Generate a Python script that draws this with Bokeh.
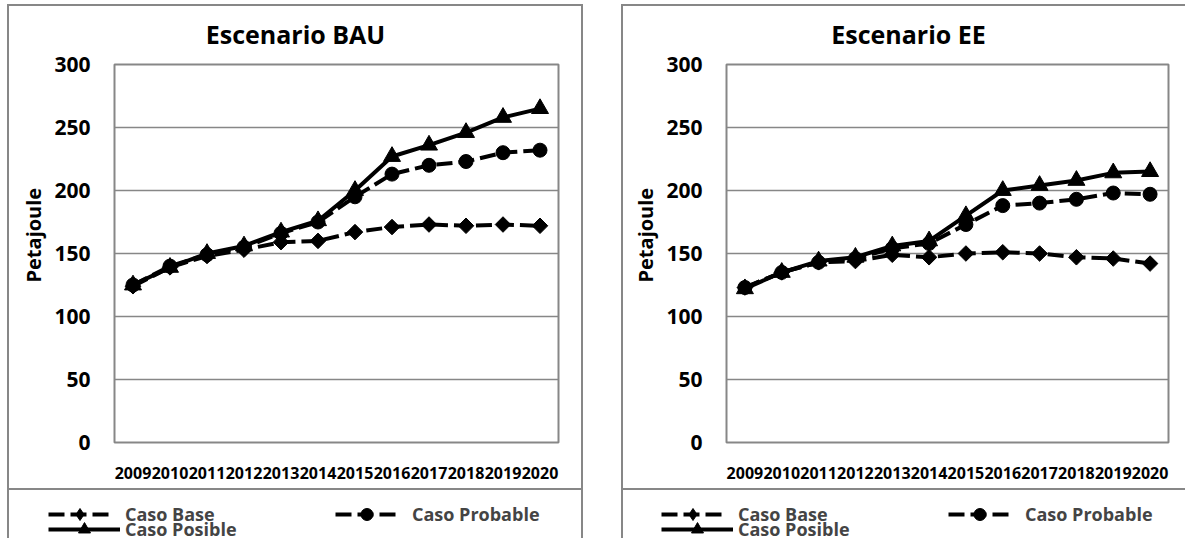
import numpy as np
from bokeh.plotting import figure
from bokeh.models import (FactorRange, Range1d, FixedTicker, Legend, LegendItem,
                          Label, Spacer, Title)
from bokeh.layouts import row, column
from bokeh.embed import file_html
from bokeh.resources import INLINE

years = [str(y) for y in range(2009, 2021)]
y_ticks = [0, 50, 100, 150, 200, 250, 300]

bau_base = [124, 139, 148, 153, 159, 160, 167, 171, 173, 172, 173, 172]
bau_probable = [125, 140, 149, 155, 166, 175, 195, 213, 220, 223, 230, 232]
bau_posible = [125, 139, 150, 156, 167, 176, 200, 227, 236, 246, 258, 265]

ee_base = [123, 135, 143, 144, 149, 147, 150, 151, 150, 147, 146, 142]
ee_probable = [123, 135, 143, 146, 154, 158, 173, 188, 190, 193, 198, 197]
ee_posible = [122, 135, 144, 147, 156, 160, 180, 200, 204, 208, 214, 215]

titles = ["Escenario BAU", "Escenario EE"]
y_label = "Petajoule"
series_names = ["Caso Base", "Caso Probable", "Caso Posible"]

GRAY = "#878787"
BORDER = f"2px solid {GRAY}"
FONT = "Open Sans"

STYLES = [
    dict(line_dash="16 6", marker="square", angle=np.pi / 4, size=11, legend_marker="diamond"),
    dict(line_dash="16 6", marker="circle", angle=0, size=14, legend_marker="circle"),
    dict(line_dash="solid", marker="triangle", angle=0, size=17, legend_marker="triangle"),
]


def draw_series(p, xs, ys, st, legend=False):
    r = p.line(xs, ys, line_color="black", line_width=4, line_dash=st["line_dash"])
    if legend:
        s = p.scatter(xs, ys, marker=st["legend_marker"], size=12, color="black")
    else:
        s = p.scatter(xs, ys, marker=st["marker"], angle=st["angle"],
                      size=st["size"], color="black")
    return [r, s]


def bare_fig(width, height, **kw):
    q = figure(width=width, height=height, output_backend="svg", toolbar_location=None,
               x_axis_location=None, y_axis_location=None,
               min_border=0, min_border_left=0, min_border_right=0,
               min_border_top=0, min_border_bottom=0, **kw)
    q.outline_line_color = None
    q.grid.visible = False
    return q


def make_title_fig(title, width, cx):
    q = bare_fig(width, 44, x_range=Range1d(0, 1), y_range=Range1d(0, 1))
    q.add_layout(Label(x=cx, y=17, x_units="screen", y_units="screen", text=title,
                       text_align="center", text_baseline="middle",
                       text_font=FONT, text_font_style="bold", text_font_size="25px",
                       text_color="black"))
    return q


def make_chart(series, width, fl, fr):
    p = figure(width=width, height=438,
               x_range=FactorRange(*years), y_range=Range1d(0, 300),
               output_backend="svg", toolbar_location=None,
               min_border_left=fl, min_border_right=fr,
               min_border_top=14, min_border_bottom=46)
    p.outline_line_color = GRAY
    p.outline_line_width = 2
    p.xgrid.visible = False
    p.ygrid.grid_line_color = GRAY
    p.ygrid.grid_line_width = 1.5
    p.yaxis.ticker = FixedTicker(ticks=y_ticks)
    for ax in (p.xaxis[0], p.yaxis[0]):
        ax.axis_line_color = None
        ax.major_tick_line_color = None
        ax.minor_tick_line_color = None
        ax.major_tick_out = 0
        ax.major_tick_in = 0
        ax.major_label_text_font = FONT
        ax.major_label_text_font_style = "bold"
        ax.major_label_text_color = "black"
    p.yaxis.major_label_text_font_size = "21px"
    p.yaxis.major_label_standoff = 24
    p.xaxis.major_label_text_font_size = "16px"
    p.xaxis.major_label_standoff = 24
    p.add_layout(Title(text=y_label, align="left", offset=160, standoff=10,
                       text_font=FONT, text_font_style="bold", text_font_size="20px",
                       text_color="black"), "left")

    for ys, st in zip(series, STYLES):
        draw_series(p, years, ys, st)
    return p


def make_legend_fig(width, gx, series):
    q = bare_fig(width, 50, x_range=FactorRange(*years), y_range=Range1d(-2, -1),
                 styles={"border-top": BORDER})
    rs = [draw_series(q, years, ys, st, legend=True) for ys, st in zip(series, STYLES)]
    common = dict(orientation="horizontal", padding=0, margin=0,
                  glyph_height=30, label_height=30,
                  label_text_font=FONT, label_text_font_style="bold",
                  label_text_font_size="18px", border_line_color=None,
                  background_fill_alpha=0)
    leg1 = Legend(items=[LegendItem(label=series_names[0], renderers=rs[0]),
                         LegendItem(label=series_names[1], renderers=rs[1])],
                  location=(gx, 11), spacing=10, glyph_width=63,
                  label_width=200, label_standoff=14, **common)
    leg2 = Legend(items=[LegendItem(label=series_names[2], renderers=rs[2])],
                  location=(gx, -4), spacing=0, glyph_width=72,
                  label_width=100, label_standoff=5, **common)
    q.add_layout(leg1, "center")
    q.add_layout(leg2, "center")
    return q


bau = [bau_base, bau_probable, bau_posible]
ee = [ee_base, ee_probable, ee_posible]

t1 = make_title_fig(titles[0], 572, 286)
c1 = make_chart(bau, 572, 105, 23)
l1 = make_legend_fig(572, 39, bau)
t2 = make_title_fig(titles[1], 562, 285)
c2 = make_chart(ee, 562, 103, 17)
l2 = make_legend_fig(562, 38, ee)

left_col = column(row(t1), row(c1), row(l1), spacing=0,
                  styles={"border-left": BORDER, "border-right": BORDER, "border-top": BORDER})
right_col = column(row(t2), row(c2), row(l2), spacing=0,
                   styles={"border-left": BORDER, "border-top": BORDER})

layout = column(Spacer(width=10, height=4),
                row(Spacer(width=7, height=10), left_col, Spacer(width=38, height=10), right_col,
                    spacing=0),
                spacing=0)

open("out.html", "w").write(file_html(layout, INLINE))
